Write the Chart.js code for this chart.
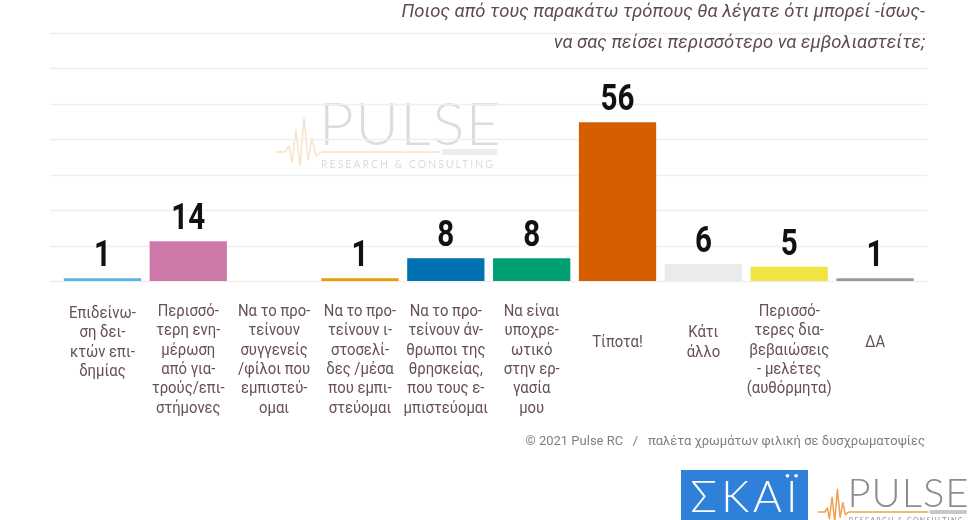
<!DOCTYPE html>
<html>
<head>
<meta charset="utf-8">
<script src="https://cdn.jsdelivr.net/npm/chart.js@4.4.1/dist/chart.umd.min.js"></script>
<style>
  html, body { margin: 0; padding: 0; background: #fff; }
  #wrap { width: 980px; height: 520px; position: relative; }
</style>
</head>
<body>
<div id="wrap"><canvas id="chart" width="980" height="520"></canvas></div>
<script>
// Chart data
const categories = [
    ['Επιδείνω-', 'ση δει-', 'κτών επι-', 'δημίας'],
    ['Περισσό-', 'τερη ενη-', 'μέρωση', 'από για-', 'τρούς/επι-', 'στήμονες'],
    ['Να το προ-', 'τείνουν', 'συγγενείς', '/φίλοι που', 'εμπιστεύ-', 'ομαι'],
    ['Να το προ-', 'τείνουν ι-', 'στοσελί-', 'δες /μέσα', 'που εμπι-', 'στεύομαι'],
    ['Να το προ-', 'τείνουν άν-', 'θρωποι της', 'θρησκείας,', 'που τους ε-', 'μπιστεύομαι'],
    ['Να είναι', 'υποχρε-', 'ωτικό', 'στην ερ-', 'γασία', 'μου'],
    ['Τίποτα!'],
    ['Κάτι', 'άλλο'],
    ['Περισσό-', 'τερες δια-', 'βεβαιώσεις', '- μελέτες', '(αυθόρμητα)'],
    ['ΔΑ']
];
const values = [1, 14, 0, 1, 8, 8, 56, 6, 5, 1];
const barColors = ['#56B4E9', '#CC79A7', '#000000', '#E69F00', '#0072B2',
                   '#009E73', '#D55E00', '#EBEBEB', '#F0E442', '#999999'];
const titleLines = [
    'Ποιος από τους παρακάτω τρόπους θα λέγατε ότι μπορεί -ίσως-',
    'να σας πείσει περισσότερο να εμβολιαστείτε;'
];
const footerText = '© 2021 Pulse RC   /   παλέτα χρωμάτων φιλική σε δυσχρωματοψίες';

const TEXT_BROWN = '#665050';

function drawHeartbeat(ctx, pts, color, width) {
    ctx.save();
    ctx.strokeStyle = color;
    ctx.lineWidth = width;
    ctx.lineJoin = 'round';
    ctx.beginPath();
    pts.forEach((p, i) => i ? ctx.lineTo(p[0], p[1]) : ctx.moveTo(p[0], p[1]));
    ctx.stroke();
    ctx.restore();
}

function drawPulseLogo(ctx, x, y, s, alpha) {
    // x,y = left of heartbeat, level of the flat line
    ctx.save();
    ctx.globalAlpha = alpha;
    const beat = [[0, 0], [10, 0], [14, -6], [17, 10], [21, -22], [25, 14], [29, -34], [33, 8],
                  [37, -14], [41, 4], [46, 0], [165, 0]];
    drawHeartbeat(ctx, beat.map(p => [x + p[0] * s, y + p[1] * s]), '#f0a050', 1.5);
    ctx.fillStyle = '#8c8c8c';
    ctx.font = `300 ${Math.round(60 * s)}px Lato, "Open Sans", sans-serif`;
    ctx.letterSpacing = `${(1.5 * s).toFixed(1)}px`;
    ctx.textBaseline = 'alphabetic';
    ctx.textAlign = 'left';
    ctx.fillText('PULSE', x + 44 * s, y - 7 * s);
    ctx.font = `${(10.5 * s).toFixed(1)}px Lato, sans-serif`;
    ctx.letterSpacing = `${(2 * s).toFixed(1)}px`;
    ctx.fillText('RESEARCH & CONSULTING', x + 46 * s, y + 16 * s);
    ctx.fillStyle = '#c8c8c8';
    ctx.fillRect(x + 167 * s, y - 3 * s, 55 * s, 6 * s);
    ctx.restore();
}

const decorPlugin = {
    id: 'decor',
    beforeDraw(chart) {
        const ctx = chart.ctx;
        const yScale = chart.scales.y;
        ctx.save();
        ctx.fillStyle = '#ffffff';
        ctx.fillRect(0, 0, chart.width, chart.height);

        // watermark
        drawPulseLogo(ctx, 275, 152, 1.0, 0.3);

        // faint grid lines, wider than the bar area
        ctx.strokeStyle = '#efefef';
        ctx.lineWidth = 1.5;
        yScale.ticks.forEach(t => {
            const py = Math.round(yScale.getPixelForValue(t.value)) + 0.5;
            ctx.beginPath();
            ctx.moveTo(50, py);
            ctx.lineTo(927, py);
            ctx.stroke();
        });
        ctx.restore();
    },
    afterDatasetsDraw(chart) {
        const ctx = chart.ctx;
        const xScale = chart.scales.x;
        const meta = chart.getDatasetMeta(0);
        ctx.save();

        // value labels
        ctx.fillStyle = '#111111';
        ctx.textAlign = 'center';
        ctx.textBaseline = 'alphabetic';
        ctx.font = 'bold 37px Roboto, sans-serif';
        meta.data.forEach((bar, i) => {
            if (!values[i]) return;
            ctx.save();
            ctx.translate(bar.x, bar.y - 12);
            ctx.scale(0.8, 1);
            ctx.fillText(String(values[i]), 0, 0);
            ctx.restore();
        });

        // category labels
        ctx.fillStyle = TEXT_BROWN;
        ctx.font = '16.5px Roboto, sans-serif';
        ctx.textBaseline = 'middle';
        const lh = 19.3;
        categories.forEach((lines, i) => {
            const cx = xScale.getPixelForValue(i);
            const first = Math.max(312, 343 - (lines.length - 1) * lh / 2);
            lines.forEach((ln, j) => {
                ctx.save();
                ctx.translate(cx, first + j * lh);
                ctx.scale(0.9, 1);
                ctx.fillText(ln, 0, 0);
                ctx.restore();
            });
        });
        ctx.restore();
    },
    afterDraw(chart) {
        const ctx = chart.ctx;
        ctx.save();

        // title
        ctx.fillStyle = '#5e4c4c';
        ctx.textAlign = 'right';
        ctx.textBaseline = 'middle';
        ctx.font = 'italic 19px Roboto, sans-serif';
        [12, 43].forEach((y, i) => {
            ctx.save();
            ctx.translate(925, y);
            ctx.scale(0.97, 1);
            ctx.fillText(titleLines[i], 0, 0);
            ctx.restore();
        });

        // footer
        ctx.fillStyle = '#7f7f7f';
        ctx.font = '13px Roboto, sans-serif';
        ctx.fillText(footerText, 925, 442);

        // SKAI logo
        ctx.fillStyle = '#2f80d8';
        ctx.fillRect(681, 470, 127, 50);
        ctx.fillStyle = '#ffffff';
        ctx.textAlign = 'center';
        ctx.font = '300 44px Lato, "Open Sans", sans-serif';
        ctx.letterSpacing = '4px';
        ctx.fillText('ΣΚΑΪ', 746, 498);
        ctx.letterSpacing = '0px';

        // PULSE logo
        drawPulseLogo(ctx, 818, 512, 0.67, 1);
        ctx.restore();
    }
};

const chart = new Chart(document.getElementById('chart'), {
    type: 'bar',
    data: {
        labels: categories,
        datasets: [{
            data: values,
            backgroundColor: barColors,
            borderWidth: 0,
            categoryPercentage: 1.0,
            barPercentage: 0.9
        }]
    },
    options: {
        responsive: false,
        animation: false,
        layout: { padding: { left: 59.5, right: 62, top: 33, bottom: 239 } },
        plugins: {
            legend: { display: false },
            tooltip: { enabled: false }
        },
        scales: {
            x: { display: false },
            y: {
                display: false,
                min: 0,
                max: 87.5,
                ticks: { stepSize: 12.5 }
            }
        }
    },
    plugins: [decorPlugin]
});
</script>
</body>
</html>
